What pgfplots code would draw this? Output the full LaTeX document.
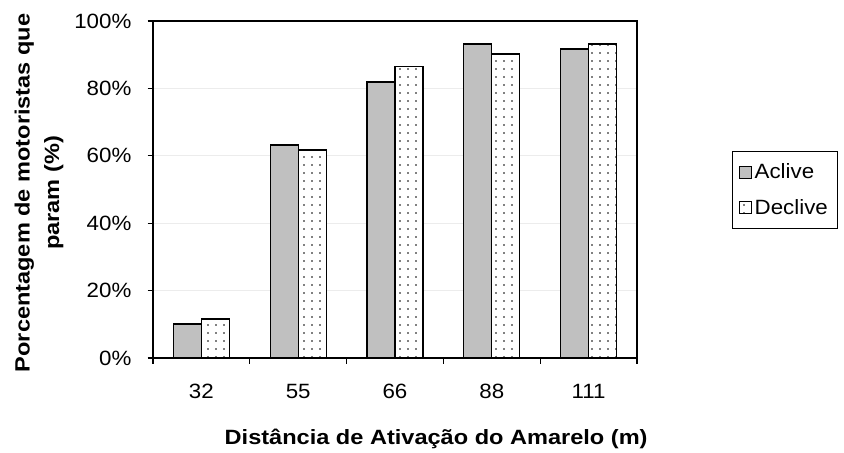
\documentclass[border=0pt]{standalone}
\usepackage{pgfplots}
\pgfplotsset{compat=1.18}
\usepackage{fontspec}
\setmainfont{Liberation Sans}
\newfontfamily\lsfont[FakeStretch=1.08]{Liberation Sans}
\newfontfamily\lsboldfont[FakeStretch=1.14]{Liberation Sans Bold}
\usetikzlibrary{patterns.meta}
\definecolor{barGray}{RGB}{192,192,192}
\begin{document}
\begin{tikzpicture}
\path[use as bounding box] (-114.75pt,-71.25pt) rectangle (518.25pt,268.5pt);
\begin{axis}[
  at={(0,0)}, anchor=south west,
  scale only axis, width=363pt, height=252.75pt,
  xmin=-0.5, xmax=4.5, ymin=0, ymax=1,
  ybar=0pt, bar width=21pt,
  axis line style={black, line width=0.8pt},
  xtick={0,1,2,3,4}, xticklabels={32,55,66,88,111},
  major x tick style={draw=none},
  minor xtick={-0.5,0.5,1.5,2.5,3.5,4.5},
  minor x tick style={black, line width=0.8pt},
  minor tick length=4.5pt,
  major tick length=4pt,
  tick align=outside,
  xtick pos=bottom, ytick pos=left,
  ytick={0,0.2,0.4,0.6,0.8,1},
  yticklabels={0\%,20\%,40\%,60\%,80\%,100\%},
  y tick style={black, line width=0.8pt},
  ymajorgrids, major grid style={gray!15, line width=0.5pt},
  tick label style={font=\lsfont\fontsize{15.5}{18}\selectfont},
  x tick label style={anchor=center, yshift=-21pt},
  y tick label style={anchor=east, inner sep=0pt, xshift=-12pt},
  xlabel={Distância de Ativação do Amarelo (m)},
  ylabel={Porcentagem de motoristas que\\param (\%)},
  xlabel style={font=\lsboldfont\fontsize{15.5}{18}\selectfont, at={(axis description cs:0.585,-0.24)}, anchor=center},
  ylabel style={font=\lsboldfont\fontsize{15.5}{22}\selectfont, align=center, at={(axis description cs:-0.2355,0.49)}, anchor=center},
  legend cell align=left,
  legend image code/.code={\draw[#1,line width=0.7pt] (0pt,-4.5pt) rectangle (9pt,4.5pt);},
  legend style={at={(axis description cs:1.196,0.614)}, anchor=north west, draw=black, line width=0.8pt,
    font=\lsfont\fontsize{15.5}{18}\selectfont, inner xsep=5pt, inner ysep=7pt, row sep=10pt},
]
\addplot[draw=black, line width=0.9pt, fill=barGray] coordinates {(0,0.101) (1,0.632) (2,0.819) (3,0.932) (4,0.917)};
\addplot[draw=black, line width=0.9pt, fill=white, postaction={pattern={Dots[distance=6pt,radius=0.65pt]}, pattern color=black}] coordinates {(0,0.116) (1,0.617) (2,0.866) (3,0.902) (4,0.932)};
\legend{Aclive,Declive}
\end{axis}
\end{tikzpicture}
\end{document}
